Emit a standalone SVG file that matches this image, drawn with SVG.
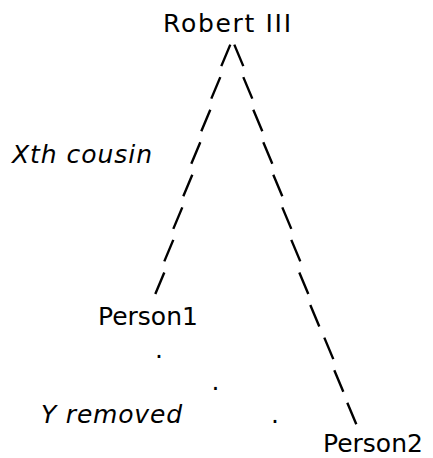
<svg xmlns="http://www.w3.org/2000/svg" width="433" height="458" viewBox="0 0 433 458">
<style>
  .t { font-family: "DejaVu Sans", Verdana, sans-serif; font-size: 25px; fill: #000; }
  .i { font-style: italic; }
  .c { fill: none; stroke: #000; stroke-width: 2.4; stroke-linecap: butt; }
</style>
<rect width="433" height="458" fill="#fff"/>
<g id="connectors">
  <path id="edge-robert-person1" class="c" d="M221.3,66.1 L230.3,44.6 M211.3,98.6 L220.3,77.1 M201.3,131.2 L210.3,109.7 M191.3,163.7 L200.3,142.2 M183.3,196.3 L192.3,174.8 M173.3,228.9 L182.3,207.4 M164.3,261.4 L173.3,239.9 M155.3,294 L164.3,272.5"/>
  <path id="edge-robert-person2" class="c" d="M234.3,44.6 L243.3,66.1 M243.3,77.1 L252.3,98.6 M253.3,109.7 L262.3,131.2 M263.3,142.2 L272.3,163.7 M273.3,174.8 L282.3,196.3 M282.3,207.4 L291.3,228.9 M291.3,239.9 L300.3,261.4 M299.3,272.5 L308.3,294 M310.3,305 L319.3,326.5 M324.3,337.6 L333.3,359.1 M334.3,370.2 L343.3,391.7 M347.3,402.7 L356.3,424.2"/>
</g>
<g id="removed-dots">
  <text class="t" x="155" y="357.6">.</text>
  <text class="t" x="211.6" y="390.2">.</text>
  <text class="t" x="271" y="422.7">.</text>
</g>
<g id="robert-iii"><text class="t" x="163" y="32" textLength="128" lengthAdjust="spacing">Robert III</text></g>
<g id="person1"><text class="t" x="98" y="325">Person1</text></g>
<g id="person2"><text class="t" x="323" y="452">Person2</text></g>
<g id="label-xth-cousin"><text class="t i" x="12" y="163" textLength="140" lengthAdjust="spacing">Xth cousin</text></g>
<g id="label-y-removed"><text class="t i" x="41" y="422.7" textLength="141" lengthAdjust="spacing">Y removed</text></g>
</svg>
